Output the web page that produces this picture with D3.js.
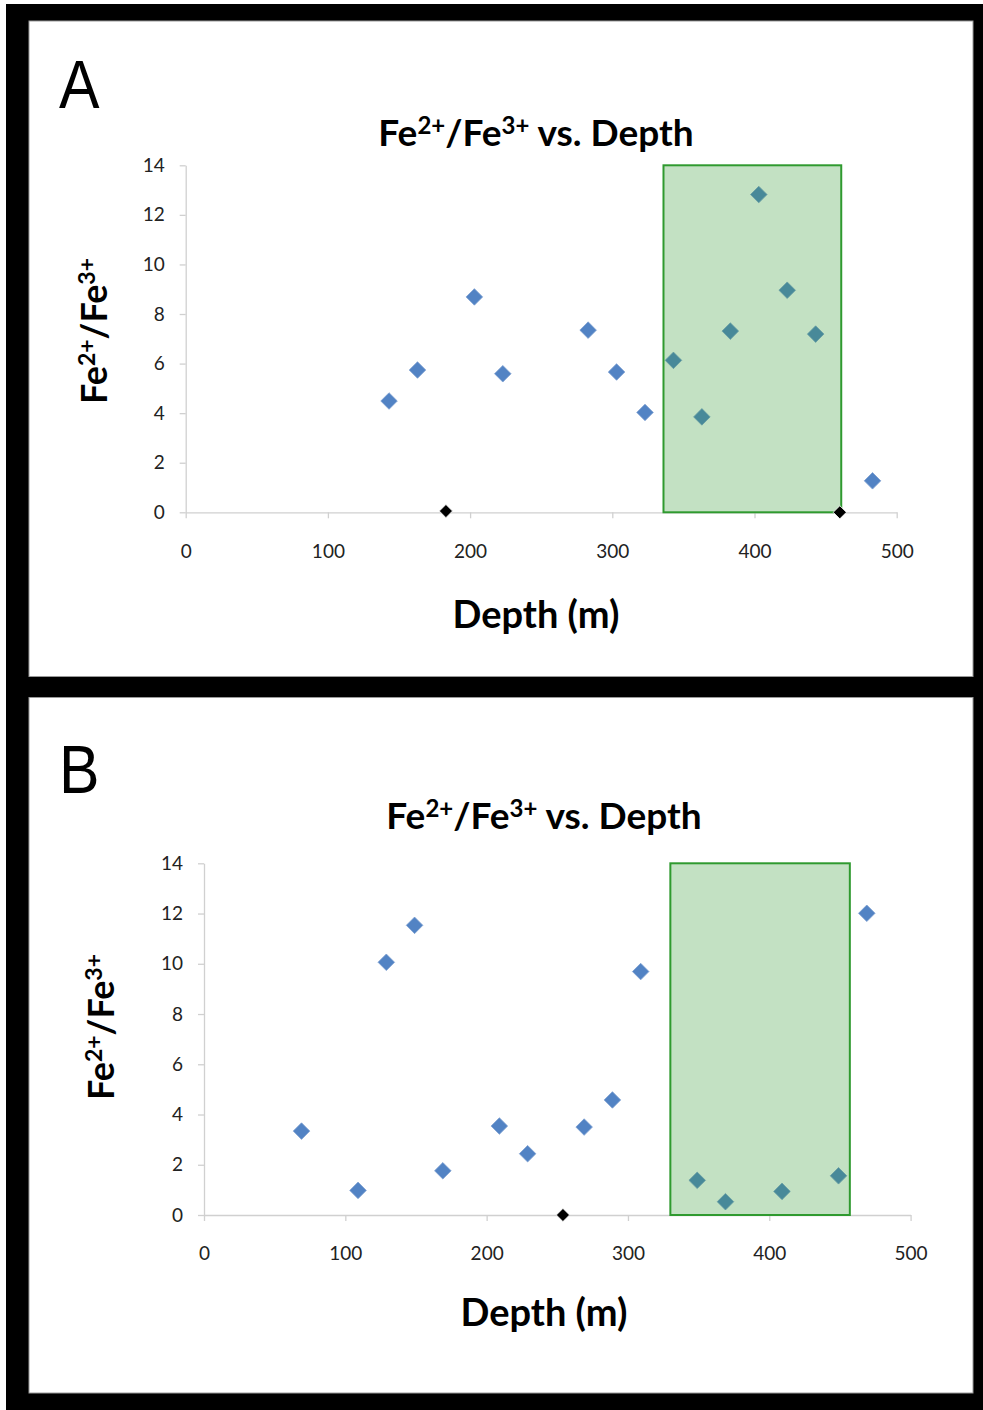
<!DOCTYPE html>
<html>
<head>
<meta charset="utf-8">
<script src="https://cdn.jsdelivr.net/npm/d3@7"></script>
<style>
  body { margin: 0; background: #fff; }
  text { font-family: Lato, "Open Sans", sans-serif; }
</style>
</head>
<body>
<div id="chart"></div>
<script>
// values (depth in m, Fe2+/Fe3+ ratio)
const depthA = [143, 163, 203, 223, 283, 303, 323, 343, 363, 383, 403, 423, 443, 483];
const ratioA = [4.49, 5.74, 8.69, 5.59, 7.35, 5.66, 4.03, 6.13, 3.85, 7.31, 12.82, 8.96, 7.19, 1.27];
const zeroDepthA = [183, 460];
const zeroRatioA = [0.05, 0];
const bandA = [336, 461];

const depthB = [69, 109, 129, 149, 169, 209, 229, 269, 289, 309, 349, 369, 409, 449, 469];
const ratioB = [3.34, 0.98, 10.06, 11.53, 1.76, 3.54, 2.44, 3.5, 4.58, 9.69, 1.38, 0.53, 0.94, 1.56, 12.01];
const zeroDepthB = [254];
const zeroRatioB = [0];
const bandB = [330, 457];

const xTicks = [0, 100, 200, 300, 400, 500];
const yTicks = [0, 2, 4, 6, 8, 10, 12, 14];
const panelLetters = ["A", "B"];

const W = 983, H = 1410;

const svg = d3.select("#chart").append("svg")
  .attr("width", W).attr("height", H);

// black frame
svg.append("rect").attr("x", 6).attr("y", 4).attr("width", W - 6).attr("height", H - 4).attr("fill", "#000");

function ratioLabel(sel, small, shift) {
  sel.append("tspan").text("Fe");
  sel.append("tspan").attr("dy", -shift).style("font-size", small + "px").text("2+");
  sel.append("tspan").attr("dy", shift).text("/Fe");
  sel.append("tspan").attr("dy", -shift).style("font-size", small + "px").text("3+");
  return sel;
}

function drawPanel(p) {
  const g = svg.append("g");
  g.append("rect")
    .attr("x", 29).attr("y", p.top).attr("width", 944).attr("height", p.bottom - p.top)
    .attr("fill", "#fff").attr("stroke", "#999").attr("stroke-width", 1);

  const x = d3.scaleLinear().domain([0, 500]).range([p.x0, p.x1]);
  const y = d3.scaleLinear().domain([0, 14]).range([p.y0, p.y1]);

  // axes
  const xAxis = g.append("g").attr("transform", `translate(0,${p.y0})`)
    .call(d3.axisBottom(x).tickValues(xTicks).tickSize(6).tickPadding(26).tickSizeOuter(0));
  const yAxis = g.append("g").attr("transform", `translate(${p.x0},0)`)
    .call(d3.axisLeft(y).tickValues(yTicks).tickSize(6).tickPadding(15).tickSizeOuter(0));
  [xAxis, yAxis].forEach(a => {
    a.select(".domain").attr("stroke", "#d0d0d0").attr("stroke-width", 1.3);
    a.selectAll(".tick line").attr("stroke", "#d0d0d0").attr("stroke-width", 1.3);
    a.selectAll(".tick text").attr("fill", "#222").style("font-size", "19px")
      .style("font-family", "Lato, 'Open Sans', sans-serif");
  });

  const diamond = d3.symbol().type(d3.symbolDiamond2);

  // blue points
  g.append("g").selectAll("path")
    .data(p.depth.map((d, i) => [d, p.ratio[i]]))
    .join("path")
    .attr("d", diamond.size(175)())
    .attr("transform", d => `translate(${x(d[0])},${y(d[1])})`)
    .attr("fill", "#5283c4")
    .attr("stroke", "#7d9fd0").attr("stroke-width", 0.8);

  // green band on top of points
  g.append("rect")
    .attr("x", x(p.band[0])).attr("y", y(14))
    .attr("width", x(p.band[1]) - x(p.band[0]))
    .attr("height", y(0) - y(14))
    .attr("fill", "#2f962f").attr("fill-opacity", 0.29)
    .attr("stroke", "#2f9a2f").attr("stroke-width", 2);

  // black points at zero
  g.append("g").selectAll("path")
    .data(p.zeroDepth.map((d, i) => [d, p.zeroRatio[i]]))
    .join("path")
    .attr("d", diamond.size(110)())
    .attr("transform", d => `translate(${x(d[0])},${y(d[1])})`)
    .attr("fill", "#000").attr("stroke", "#fff").attr("stroke-width", 0.8);

  // panel letter
  g.append("text")
    .attr("transform", `translate(59,${p.letterY}) scale(0.88,1)`)
    .style("font-family", "'Liberation Sans', Arial, sans-serif")
    .style("font-size", "69px").attr("fill", "#000")
    .text(p.letter);

  // title
  const t = g.append("text")
    .attr("x", p.titleX).attr("y", p.titleY)
    .attr("text-anchor", "middle")
    .style("font-size", "37px").style("font-weight", "bold");
  ratioLabel(t, 24, 12);
  t.append("tspan").attr("dy", 12).text(" vs. Depth");

  // x label
  g.append("text")
    .attr("x", p.titleX).attr("y", p.xLabelY)
    .attr("text-anchor", "middle")
    .style("font-size", "38px").style("font-weight", "bold")
    .text("Depth (m)");

  // y label
  const yl = g.append("text")
    .attr("transform", `translate(${p.yLabelX},${p.yLabelY}) rotate(-90)`)
    .attr("text-anchor", "middle")
    .style("font-size", "36px").style("font-weight", "bold");
  ratioLabel(yl, 23, 12);
}

drawPanel({
  letter: panelLetters[0], top: 21, bottom: 676.5,
  x0: 185.7, x1: 896.7, y0: 512.3, y1: 165.3,
  depth: depthA, ratio: ratioA, zeroDepth: zeroDepthA, zeroRatio: zeroRatioA, band: bandA,
  letterY: 108, titleX: 536, titleY: 146, xLabelY: 628, yLabelX: 107, yLabelY: 331
});

drawPanel({
  letter: panelLetters[1], top: 697.5, bottom: 1393,
  x0: 204, x1: 910.6, y0: 1215, y1: 863.3,
  depth: depthB, ratio: ratioB, zeroDepth: zeroDepthB, zeroRatio: zeroRatioB, band: bandB,
  letterY: 793, titleX: 544, titleY: 829, xLabelY: 1326, yLabelX: 114, yLabelY: 1027
});
</script>
</body>
</html>
